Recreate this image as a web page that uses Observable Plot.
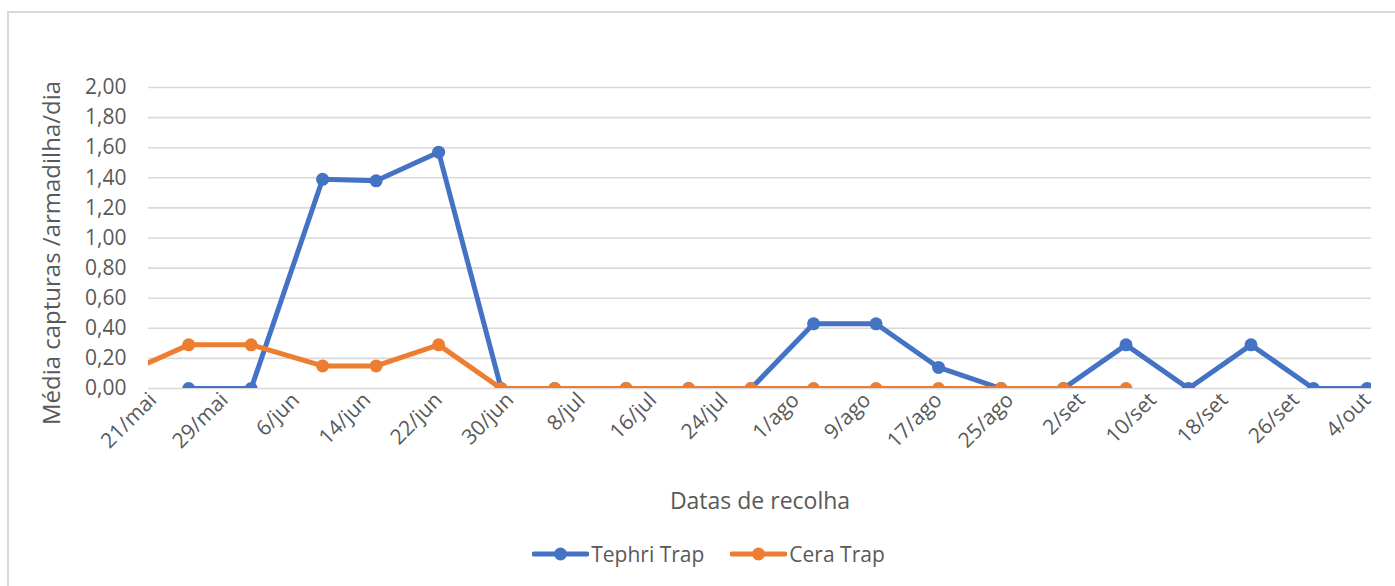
<!DOCTYPE html>
<html>
<head>
<meta charset="utf-8">
<script src="https://cdn.jsdelivr.net/npm/d3@7"></script>
<script src="https://cdn.jsdelivr.net/npm/@observablehq/plot@0.6"></script>
<style>
  html, body { margin: 0; padding: 0; background: #fff; }
  body { width: 1395px; height: 586px; position: relative; overflow: hidden; font-family: "Open Sans", sans-serif; }
  #frame { position: absolute; left: 7px; top: 11px; width: 1400px; height: 600px; border: 2px solid #d9d9d9; box-sizing: border-box; }
  #chart { position: absolute; left: 0; top: 0; }
  #legend { position: absolute; left: 0; top: 540px; width: 1395px; display: flex; justify-content: center; gap: 26px; padding-left: 22px; box-sizing: border-box; font-size: 21px; color: #595959; }
  .item { display: flex; align-items: center; gap: 2px; }
  g[aria-label="x-axis label"] text, g[aria-label="x-axis label"] { font-size: 23px; }
</style>
</head>
<body>
<div id="frame"></div>
<div id="chart"></div>
<div id="legend"></div>
<script>
// Collection dates (year arbitrary)
const tephriDates = ["2019-05-25","2019-06-01","2019-06-09","2019-06-15","2019-06-22","2019-06-29","2019-07-05","2019-07-13","2019-07-20","2019-07-27","2019-08-03","2019-08-10","2019-08-17","2019-08-24","2019-08-31","2019-09-07","2019-09-14","2019-09-21","2019-09-28","2019-10-04"];
const tephriValues = [0, 0, 1.39, 1.38, 1.57, 0, 0, 0, 0, 0, 0.43, 0.43, 0.14, 0, 0, 0.29, 0, 0.29, 0, 0];

const ceraDates = ["2019-05-14","2019-05-25","2019-06-01","2019-06-09","2019-06-15","2019-06-22","2019-06-29","2019-07-05","2019-07-13","2019-07-20","2019-07-27","2019-08-03","2019-08-10","2019-08-17","2019-08-24","2019-08-31","2019-09-07"];
const ceraValues = [0, 0.29, 0.29, 0.15, 0.15, 0.29, 0, 0, 0, 0, 0, 0, 0, 0, 0, 0, 0];

const tickDates = ["2019-05-21","2019-05-29","2019-06-06","2019-06-14","2019-06-22","2019-06-30","2019-07-08","2019-07-16","2019-07-24","2019-08-01","2019-08-09","2019-08-17","2019-08-25","2019-09-02","2019-09-10","2019-09-18","2019-09-26","2019-10-04"];
const tickLabels = ["21/mai","29/mai","6/jun","14/jun","22/jun","30/jun","8/jul","16/jul","24/jul","1/ago","9/ago","17/ago","25/ago","2/set","10/set","18/set","26/set","4/out"];
const yTicks = [0, 0.2, 0.4, 0.6, 0.8, 1.0, 1.2, 1.4, 1.6, 1.8, 2.0];
const yTitle = "Média capturas /armadilha/dia";
const xTitle = "Datas de recolha";

const seriesNames = ["Tephri Trap", "Cera Trap"];
const seriesColors = ["#4472C4", "#ED7D31"];

const parse = d3.utcParse("%Y-%m-%d");
const tephri = tephriDates.map((d, i) => ({date: parse(d), value: tephriValues[i]}));
const cera = ceraDates.map((d, i) => ({date: parse(d), value: ceraValues[i]}));
const ticks = tickDates.map(parse);
const labelOf = new Map(ticks.map((t, i) => [+t, tickLabels[i]]));

const half = 12 * 3600 * 1000;
const xDomain = [new Date(+ticks[0] - half), new Date(+ticks[ticks.length - 1] + half)];
const fmt = v => v.toFixed(2).replace(".", ",");

const chart = Plot.plot({
  width: 1395,
  height: 520,
  marginLeft: 148,
  marginRight: 24,
  marginTop: 87,
  marginBottom: 132,
  style: {fontFamily: "'Open Sans', sans-serif", fontSize: "21px", color: "#595959", background: "transparent"},
  x: {type: "utc", domain: xDomain},
  y: {domain: [0, 2]},
  marks: [
    Plot.gridY(yTicks, {stroke: "#d9d9d9", strokeOpacity: 1, strokeWidth: 1.6}),
    Plot.axisY(yTicks, {tickSize: 0, tickPadding: 22, tickFormat: fmt, label: null, fontSize: 21}),
    Plot.text([yTitle], {frameAnchor: "left", textAnchor: "middle", lineAnchor: "middle", rotate: -90, dx: -96, dy: 15, fontSize: 24, fill: "#595959"}),
    Plot.axisX(ticks, {tickSize: 0, tickPadding: 8, tickRotate: -45, tickFormat: d => labelOf.get(+d), label: xTitle, labelAnchor: "center", labelArrow: "none", labelOffset: 120, fontSize: 21}),
    Plot.line(tephri, {x: "date", y: "value", stroke: seriesColors[0], strokeWidth: 5, clip: true}),
    Plot.dot(tephri, {x: "date", y: "value", fill: seriesColors[0], r: 6.5, clip: true}),
    Plot.line(cera, {x: "date", y: "value", stroke: seriesColors[1], strokeWidth: 5, clip: true}),
    Plot.dot(cera, {x: "date", y: "value", fill: seriesColors[1], r: 6.5, clip: true})
  ]
});
document.getElementById("chart").appendChild(chart);

// Legend
const legend = document.getElementById("legend");
seriesNames.forEach((name, i) => {
  const item = document.createElement("div");
  item.className = "item";
  item.innerHTML = `<svg width="57" height="16"><line x1="2" x2="55" y1="8" y2="8" stroke="${seriesColors[i]}" stroke-width="5" stroke-linecap="round"/><circle cx="28.5" cy="8" r="6.5" fill="${seriesColors[i]}"/></svg><span>${name}</span>`;
  legend.appendChild(item);
});
</script>
</body>
</html>
